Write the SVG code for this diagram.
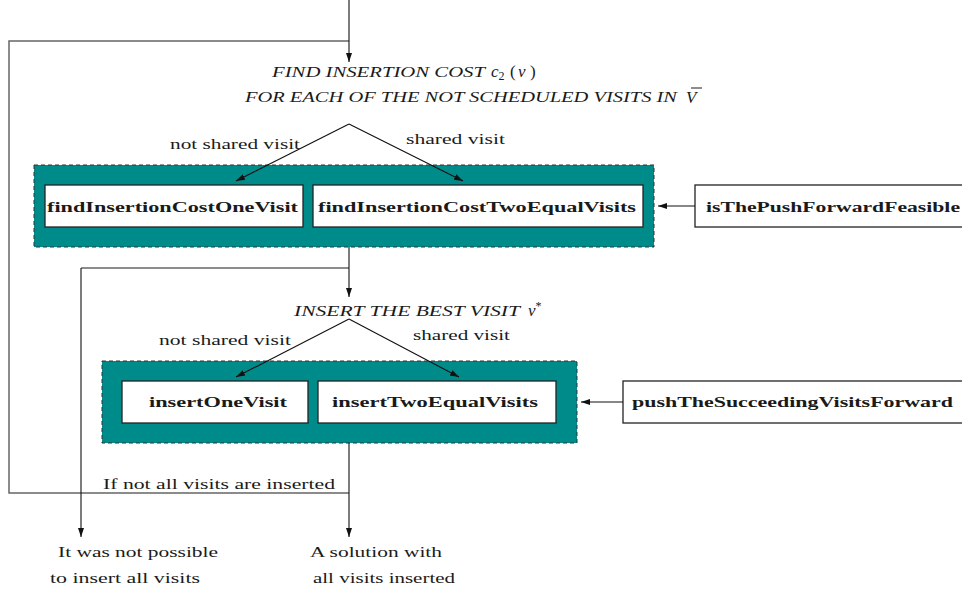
<svg xmlns="http://www.w3.org/2000/svg" width="962" height="594" viewBox="0 0 962 594">
<style>
.t{font-family:"Liberation Serif","DejaVu Serif",serif;fill:#1a1a1a;font-size:14.5px}
.it{font-style:italic}
.m{font-size:17px}
.b{font-weight:bold;font-size:15.5px}
.grp{fill:#008b8b;stroke:#333;stroke-width:1;stroke-dasharray:4 3}
.box{fill:#fff;stroke:#222;stroke-width:1.3}
.ln{fill:none;stroke:#111;stroke-width:1.1}
.loop{fill:none;stroke:#666;stroke-width:1.5}
</style>
<defs>
<marker id="ah" markerWidth="10" markerHeight="8" refX="9" refY="4" orient="auto" markerUnits="userSpaceOnUse">
<path d="M0,1 L9,4 L0,7 z" fill="#111"/>
</marker>
</defs>
<g id="labels">
<text class="t it" x="272" y="77" textLength="213" lengthAdjust="spacingAndGlyphs">FIND INSERTION COST</text>
<text class="t it m" x="491" y="77">c<tspan font-style="normal" font-size="12" dy="3">2</tspan><tspan x="510" dy="-3" font-style="normal">(</tspan><tspan x="518">v</tspan><tspan x="530" font-style="normal">)</tspan></text>
<text class="t it" x="245" y="102" textLength="432" lengthAdjust="spacingAndGlyphs">FOR EACH OF THE NOT SCHEDULED VISITS IN</text>
<text class="t it m" x="686" y="103">V</text>
<line x1="691" y1="88" x2="702" y2="88" stroke="#1a1a1a" stroke-width="1"/>
<text class="t" x="170" y="149" textLength="130" lengthAdjust="spacingAndGlyphs">not shared visit</text>
<text class="t" x="406" y="144" textLength="99" lengthAdjust="spacingAndGlyphs">shared visit</text>
<text class="t it" x="294" y="316" textLength="226" lengthAdjust="spacingAndGlyphs">INSERT THE BEST VISIT</text>
<text class="t it m" x="528" y="316">v<tspan font-style="normal" font-size="12" dy="-6">*</tspan></text>
<text class="t" x="159" y="345" textLength="132" lengthAdjust="spacingAndGlyphs">not shared visit</text>
<text class="t" x="413" y="340" textLength="97" lengthAdjust="spacingAndGlyphs">shared visit</text>
<text class="t" x="103" y="489" textLength="232" lengthAdjust="spacingAndGlyphs">If not all visits are inserted</text>
<text class="t" x="58" y="557" textLength="160" lengthAdjust="spacingAndGlyphs">It was not possible</text>
<text class="t" x="50" y="583" textLength="150" lengthAdjust="spacingAndGlyphs">to insert all visits</text>
<text class="t" x="310" y="557" textLength="132" lengthAdjust="spacingAndGlyphs">A solution with</text>
<text class="t" x="313" y="583" textLength="142" lengthAdjust="spacingAndGlyphs">all visits inserted</text>
</g>
<g id="group-find">
<rect class="grp" x="34" y="165" width="620" height="82"/>
</g>
<g id="node-findInsertionCostOneVisit">
<rect class="box" x="45" y="185" width="258" height="42"/>
<text class="t b" x="47" y="212" textLength="251" lengthAdjust="spacingAndGlyphs">findInsertionCostOneVisit</text>
</g>
<g id="node-findInsertionCostTwoEqualVisits">
<rect class="box" x="313" y="185" width="330" height="42"/>
<text class="t b" x="318" y="212" textLength="318" lengthAdjust="spacingAndGlyphs">findInsertionCostTwoEqualVisits</text>
</g>
<g id="node-isThePushForwardFeasible">
<rect class="box" x="695" y="185" width="280" height="42"/>
<text class="t b" x="706" y="212" textLength="254" lengthAdjust="spacingAndGlyphs">isThePushForwardFeasible</text>
</g>
<g id="group-insert">
<rect class="grp" x="102" y="361" width="475" height="82"/>
</g>
<g id="node-insertOneVisit">
<rect class="box" x="122" y="381" width="186" height="42"/>
<text class="t b" x="149" y="407" textLength="138" lengthAdjust="spacingAndGlyphs">insertOneVisit</text>
</g>
<g id="node-insertTwoEqualVisits">
<rect class="box" x="318" y="381" width="238" height="42"/>
<text class="t b" x="332" y="407" textLength="206" lengthAdjust="spacingAndGlyphs">insertTwoEqualVisits</text>
</g>
<g id="node-pushTheSucceedingVisitsForward">
<rect class="box" x="623" y="381" width="350" height="42"/>
<text class="t b" x="632" y="407" textLength="321" lengthAdjust="spacingAndGlyphs">pushTheSucceedingVisitsForward</text>
</g>
<g id="connectors">
<path class="loop" d="M349,41 H9 V493 H349"/>
<path class="loop" d="M349,268 H81"/>
<line class="ln" x1="349" y1="0" x2="349" y2="62" marker-end="url(#ah)"/>
<line class="ln" x1="349" y1="124" x2="236" y2="181" marker-end="url(#ah)"/>
<line class="ln" x1="349" y1="124" x2="463" y2="181" marker-end="url(#ah)"/>
<line class="ln" x1="349" y1="247" x2="349" y2="297" marker-end="url(#ah)"/>
<line class="ln" x1="81" y1="268" x2="81" y2="537" marker-end="url(#ah)"/>
<line class="ln" x1="349" y1="319" x2="236" y2="377" marker-end="url(#ah)"/>
<line class="ln" x1="349" y1="319" x2="459" y2="377" marker-end="url(#ah)"/>
<line class="ln" x1="349" y1="443" x2="349" y2="537" marker-end="url(#ah)"/>
<line class="ln" x1="695" y1="206" x2="658" y2="206" marker-end="url(#ah)"/>
<line class="ln" x1="623" y1="402" x2="581" y2="402" marker-end="url(#ah)"/>
</g>
</svg>
